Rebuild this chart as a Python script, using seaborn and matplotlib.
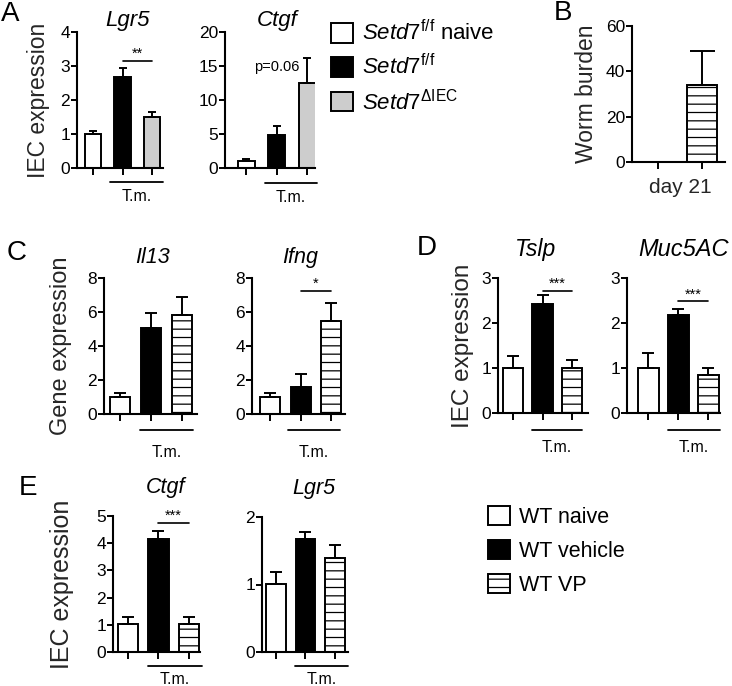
import numpy as np
import matplotlib
matplotlib.use('Agg')
import matplotlib.pyplot as plt
import matplotlib.transforms as mtransforms
from matplotlib.patches import Patch
import seaborn as sns

sns.set_style('ticks')
plt.rcParams['font.family'] = ['Liberation Sans', 'DejaVu Sans']
plt.rcParams['mathtext.fontset'] = 'custom'
plt.rcParams['mathtext.rm'] = 'Liberation Sans'
plt.rcParams['mathtext.it'] = 'Liberation Sans:italic'
plt.rcParams['hatch.linewidth'] = 0.9
plt.rcParams['axes.linewidth'] = 1.5
plt.rcParams['axes.edgecolor'] = 'black'
plt.rcParams['text.color'] = 'black'
plt.rcParams['ytick.color'] = 'black'
plt.rcParams['xtick.color'] = 'black'

# groups
setd7_groups = ['Setd7 f/f naive', 'Setd7 f/f', 'Setd7 dIEC']
setd7_labels = [r'$\mathit{Setd7}^{\mathrm{f/f}}$ naive',
                r'$\mathit{Setd7}^{\mathrm{f/f}}$',
                r'$\mathit{Setd7}^{\Delta\mathrm{IEC}}$']
wt_groups = ['WT naive', 'WT vehicle', 'WT VP']
b_groups = ['WT vehicle', 'WT VP']

# values (mean, upper SEM)
a_lgr5 = [1.0, 2.67, 1.5]
a_lgr5_err = [0.08, 0.27, 0.15]
a_ctgf = [1.0, 4.85, 12.5]
a_ctgf_err = [0.3, 1.35, 3.7]
b_worms = [0, 34]
b_worms_err = [0, 15]
c_il13 = [1.0, 5.04, 5.82]
c_il13_err = [0.22, 0.88, 1.08]
c_ifng = [1.0, 1.6, 5.49]
c_ifng_err = [0.22, 0.75, 1.06]
d_tslp = [1.0, 2.42, 1.01]
d_tslp_err = [0.26, 0.2, 0.16]
d_muc5ac = [1.0, 2.17, 0.84]
d_muc5ac_err = [0.33, 0.14, 0.16]
e_ctgf = [1.02, 4.14, 1.02]
e_ctgf_err = [0.28, 0.31, 0.25]
e_lgr5 = [1.01, 1.67, 1.39]
e_lgr5_err = [0.17, 0.11, 0.19]

setd7_colors = ['white', 'black', '#cdcdcd']
setd7_hatch = ['', '', '']
wt_colors = ['white', 'black', 'white']
wt_hatch = ['', '', '--']

W, H = 732, 686
fig = plt.figure(figsize=(W / 100, H / 100), dpi=100)


def panel(box, groups, vals, errs, colors, hatches, width, xlim, yticks,
          title=None, tsize=15, tpad=4, tx=0.5, cap=4):
    x0, x1, y0, y1 = box
    ax = fig.add_axes([x0 / W, 1 - y1 / H, (x1 - x0) / W, (y1 - y0) / H])
    sns.barplot(x=groups, y=vals, hue=groups, palette=colors, saturation=1,
                width=width, edgecolor='black', linewidth=1.4, errorbar=None,
                legend=False, ax=ax)
    for bar, h in zip(ax.patches, hatches):
        bar.set_hatch(h)
    ax.errorbar(range(len(vals)), vals, yerr=[np.zeros(len(vals)), errs],
                fmt='none', ecolor='black', elinewidth=1.4, capsize=cap,
                capthick=1.4)
    ax.set_xlim(xlim)
    ax.set_ylim(yticks[0], yticks[-1])
    ax.set_yticks(yticks)
    ax.set_xticks(range(len(vals)))
    ax.set_xticklabels([])
    ax.set_xlabel('')
    ax.set_ylabel('')
    ax.tick_params(axis='x', length=5, width=1.4)
    ax.tick_params(axis='y', length=4, width=1.4, labelsize=12.5, pad=1)
    sns.despine(ax=ax)
    if title:
        ax.set_title(title, fontsize=tsize, style='italic', pad=tpad, x=tx)
    return ax


def sig(ax, y, text, x0=1, x1=2, size=10.5):
    ax.plot([x0, x1], [y, y], color='black', lw=1.2)
    ax.text((x0 + x1) / 2, y, text, ha='center', va='bottom', fontsize=size)


def tm(ax, x0, x1, yline, ytext):
    trans = mtransforms.blended_transform_factory(ax.transData, ax.transAxes)
    ax.plot([x0, x1], [yline, yline], transform=trans, color='black',
            lw=1.3, clip_on=False)
    ax.text((x0 + x1) / 2, ytext, 'T.m.', transform=trans, ha='center',
            va='center', fontsize=11.5)


def ylab(ax, text, xf, size):
    ax.set_ylabel(text, fontsize=size, ha='center', va='center')
    ax.yaxis.set_label_coords(xf, 0.5)


# Panel A
ax = panel((77, 163, 32, 168), setd7_groups, a_lgr5, a_lgr5_err, setd7_colors,
           setd7_hatch, 0.57, (-0.54, 2.37), [0, 1, 2, 3, 4],
           'Lgr5', 16, 4, 0.59, 3)
sig(ax, 3.15, '**')
tm(ax, 0.58, 2.37, -0.103, -0.213)
ylab(ax, 'IEC expression', -0.453, 16.5)

ax = panel((225, 315, 32, 168), setd7_groups, a_ctgf, a_ctgf_err, setd7_colors,
           setd7_hatch, 0.56, (-0.69, 2.26), [0, 5, 10, 15, 20],
           'Ctgf', 16, 4, 0.58, 3)
ax.text(1, 14.8, 'p=0.06', ha='center', va='center', fontsize=10.5)
tm(ax, 0.62, 2.33, -0.11, -0.22)

fig.legend([Patch(facecolor=c, edgecolor='black', linewidth=1.4) for c in setd7_colors],
           setd7_labels, loc='upper left', bbox_to_anchor=(331 / W, 1 - 20 / H),
           frameon=False, fontsize=16, handlelength=1.0, handleheight=1.0,
           handletextpad=0.4, labelspacing=0.4, borderpad=0, borderaxespad=0)

# Panel B
ax = panel((632, 725, 26, 162), b_groups, b_worms, b_worms_err,
           ['black', 'white'], ['', '--'], 0.68, (-0.59, 1.52), [0, 20, 40, 60],
           cap=9)
ylab(ax, 'Worm burden', -0.49, 16.5)
ax.set_xlabel('day 21', fontsize=15, va='center')
ax.xaxis.set_label_coords(0.516, -0.184)

# Panel C
ax = panel((104, 197, 278, 414), wt_groups, c_il13, c_il13_err, wt_colors,
           wt_hatch, 0.65, (-0.52, 2.48), [0, 2, 4, 6, 8],
           'Il13', 15.5, 11, 0.52, 4.5)
tm(ax, 0.65, 2.35, -0.118, -0.28)
ylab(ax, 'Gene expression', -0.462, 17)

ax = panel((252, 345, 278, 414), wt_groups, c_ifng, c_ifng_err, wt_colors,
           wt_hatch, 0.65, (-0.59, 2.45), [0, 2, 4, 6, 8],
           'Ifng', 15.5, 11, 0.52, 4.5)
sig(ax, 7.25, '*')
tm(ax, 0.58, 2.29, -0.118, -0.28)

# Panel D
ax = panel((498, 588, 278, 413), wt_groups, d_tslp, d_tslp_err, wt_colors,
           wt_hatch, 0.7, (-0.51, 2.54), [0, 1, 2, 3],
           'Tslp', 16.5, 16, 0.42, 4.5)
sig(ax, 2.72, '***')
tm(ax, 0.64, 2.34, -0.126, -0.259)
ylab(ax, 'IEC expression', -0.389, 17.5)

ax = panel((627, 720, 278, 413), wt_groups, d_muc5ac, d_muc5ac_err, wt_colors,
           wt_hatch, 0.7, (-0.7, 2.4), [0, 1, 2, 3],
           'Muc5AC', 17, 16, 0.61, 4.5)
sig(ax, 2.48, '***')
tm(ax, 0.67, 2.4, -0.126, -0.259)

# Panel E
ax = panel((113, 200, 516, 652), wt_groups, e_ctgf, e_ctgf_err, wt_colors,
           wt_hatch, 0.66, (-0.49, 2.36), [0, 1, 2, 3, 4, 5],
           'Ctgf', 15.5, 16.5, 0.6, 4.5)
sig(ax, 4.75, '***')
tm(ax, 0.66, 2.43, -0.103, -0.2)
ylab(ax, 'IEC expression', -0.586, 18)

ax = panel((262, 348, 517, 652), wt_groups, e_lgr5, e_lgr5_err, wt_colors,
           wt_hatch, 0.66, (-0.47, 2.44), [0, 1, 2],
           'Lgr5', 15.5, 16.5, 0.6, 4.5)
tm(ax, 0.64, 2.44, -0.103, -0.2)

fig.legend([Patch(facecolor=c, edgecolor='black', hatch=h, linewidth=1.4)
            for c, h in zip(wt_colors, wt_hatch)],
           wt_groups, loc='upper left', bbox_to_anchor=(488 / W, 1 - 506 / H),
           frameon=False, fontsize=15.5, handlelength=1.0, handleheight=1.0,
           handletextpad=0.45, labelspacing=0.55, borderpad=0, borderaxespad=0)

# panel letters
for letter, (px, py) in zip('ABCDE', [(10, 14), (563, 13), (17, 253), (427, 248), (28, 488)]):
    fig.text(px / W, 1 - py / H, letter, fontsize=20, ha='center', va='center')

fig.savefig('out.png', dpi=100)
